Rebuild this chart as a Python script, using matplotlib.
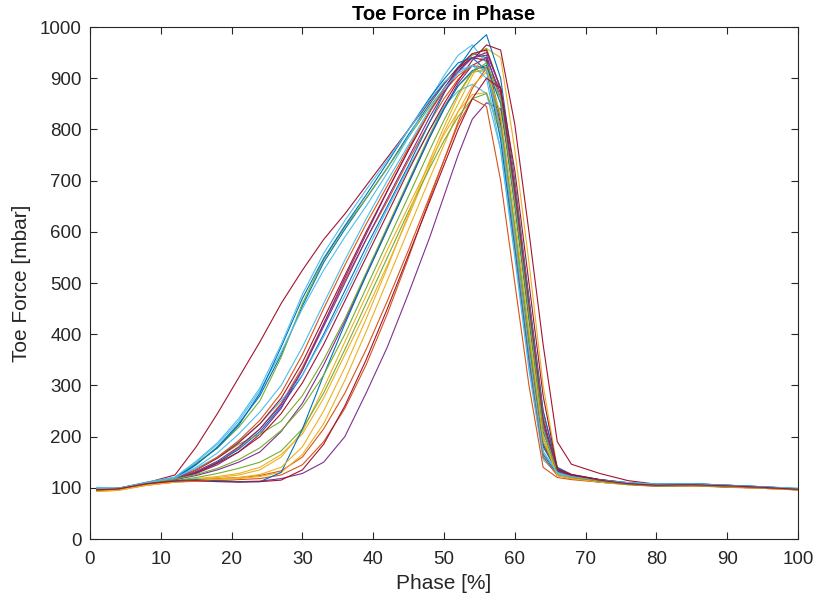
import matplotlib
matplotlib.use('Agg')
import matplotlib.pyplot as plt

# phase grid (%) shared by every trial
phase = [1, 4, 8, 12, 15, 18, 21, 24, 27, 30, 33, 36, 39, 42, 45, 48, 50, 52, 54,
         56, 58, 60, 62, 64, 66, 68, 72, 76, 80, 85, 90, 95, 100]

# toe force [mbar] per trial
trial_01 = [97, 99, 109, 118, 145, 180, 225, 280, 360, 455, 540, 605, 665, 725, 790, 850, 888, 922, 948, 940, 820, 600, 380, 180, 132, 124, 116, 110, 106, 107, 104, 101, 98]
trial_02 = [95, 97, 107, 115, 128, 148, 178, 215, 265, 335, 420, 505, 585, 660, 740, 815, 860, 898, 925, 920, 800, 580, 360, 170, 128, 120, 113, 108, 104, 105, 102, 100, 97]
trial_03 = [94, 96, 106, 113, 118, 122, 128, 140, 165, 205, 275, 360, 445, 535, 630, 730, 795, 850, 905, 958, 940, 760, 540, 300, 140, 126, 116, 109, 105, 106, 103, 100, 97]
trial_04 = [96, 97, 106, 112, 114, 113, 112, 113, 118, 128, 150, 200, 285, 375, 480, 590, 670, 750, 820, 852, 840, 680, 470, 250, 138, 124, 114, 108, 104, 105, 103, 100, 96]
trial_05 = [98, 99, 110, 120, 148, 178, 218, 270, 355, 460, 545, 610, 665, 725, 785, 845, 880, 915, 945, 958, 880, 680, 450, 230, 135, 124, 115, 108, 105, 106, 103, 101, 97]
trial_06 = [100, 98, 110, 120, 150, 185, 230, 290, 365, 450, 525, 590, 650, 715, 785, 860, 905, 945, 965, 930, 780, 560, 340, 160, 128, 121, 114, 108, 106, 107, 104, 101, 98]
trial_07 = [97, 99, 110, 125, 180, 245, 315, 385, 460, 525, 585, 635, 690, 745, 800, 855, 890, 920, 940, 935, 810, 600, 380, 185, 132, 124, 115, 109, 105, 106, 103, 100, 97]
trial_08 = [96, 98, 108, 116, 130, 150, 175, 210, 258, 320, 400, 485, 570, 650, 730, 815, 870, 920, 960, 985, 900, 700, 470, 250, 140, 126, 116, 110, 107, 108, 105, 102, 98]
trial_09 = [95, 97, 106, 112, 116, 118, 120, 124, 133, 160, 215, 285, 370, 465, 565, 670, 740, 810, 860, 845, 700, 500, 300, 140, 120, 116, 111, 107, 104, 104, 102, 99, 96]
trial_10 = [93, 96, 106, 113, 117, 120, 125, 135, 160, 210, 295, 385, 475, 565, 650, 735, 790, 835, 868, 872, 790, 600, 400, 200, 128, 121, 113, 108, 104, 105, 102, 100, 97]
trial_11 = [97, 98, 108, 116, 128, 145, 170, 205, 255, 330, 420, 510, 595, 680, 760, 835, 880, 915, 940, 945, 860, 660, 430, 220, 135, 124, 114, 107, 104, 105, 103, 100, 97]
trial_12 = [98, 99, 110, 118, 135, 158, 185, 205, 230, 280, 350, 430, 520, 610, 700, 790, 845, 885, 912, 915, 820, 610, 390, 190, 130, 122, 114, 108, 105, 106, 103, 101, 98]
trial_13 = [101, 99, 111, 119, 138, 160, 190, 225, 270, 320, 395, 475, 560, 645, 725, 800, 845, 875, 888, 870, 760, 560, 350, 170, 130, 122, 114, 109, 106, 107, 104, 101, 98]
trial_14 = [96, 98, 109, 117, 130, 148, 170, 200, 245, 305, 380, 465, 550, 635, 720, 800, 850, 895, 935, 965, 955, 810, 600, 380, 190, 146, 128, 114, 107, 106, 103, 100, 97]
trial_15 = [99, 97, 109, 119, 146, 178, 222, 285, 375, 470, 548, 612, 672, 735, 800, 862, 898, 930, 940, 915, 780, 570, 350, 165, 128, 121, 114, 109, 107, 108, 105, 102, 98]
trial_16 = [94, 96, 105, 111, 113, 114, 116, 118, 125, 145, 190, 255, 340, 440, 550, 665, 740, 815, 880, 920, 880, 690, 460, 240, 125, 118, 111, 106, 103, 104, 101, 99, 96]
trial_17 = [93, 95, 105, 112, 114, 116, 118, 122, 130, 165, 225, 310, 405, 505, 605, 705, 770, 835, 885, 912, 860, 670, 450, 230, 128, 121, 113, 108, 104, 104, 102, 99, 96]
trial_18 = [97, 99, 109, 116, 124, 135, 150, 170, 210, 265, 340, 425, 515, 605, 695, 785, 840, 890, 925, 940, 870, 670, 450, 230, 133, 123, 113, 107, 103, 104, 102, 100, 97]
trial_19 = [96, 98, 108, 114, 120, 128, 138, 150, 172, 215, 285, 370, 460, 550, 640, 725, 778, 825, 860, 870, 800, 610, 400, 200, 124, 119, 112, 107, 104, 105, 103, 100, 97]
trial_20 = [100, 99, 111, 121, 152, 188, 235, 295, 380, 478, 558, 622, 682, 740, 800, 858, 892, 915, 925, 900, 760, 550, 330, 155, 127, 121, 114, 110, 107, 108, 105, 102, 99]
trial_21 = [96, 98, 110, 118, 135, 158, 188, 225, 275, 345, 430, 515, 600, 680, 760, 835, 880, 920, 948, 955, 880, 680, 450, 230, 137, 126, 116, 109, 105, 106, 104, 101, 97]
trial_22 = [96, 98, 108, 114, 116, 114, 112, 112, 130, 215, 320, 420, 515, 605, 695, 785, 840, 885, 915, 925, 850, 650, 430, 210, 132, 122, 114, 109, 106, 108, 105, 102, 98]
trial_23 = [95, 97, 107, 117, 135, 160, 192, 232, 285, 360, 450, 535, 615, 690, 765, 835, 875, 905, 925, 915, 800, 580, 360, 160, 124, 118, 112, 107, 104, 105, 102, 100, 97]
trial_24 = [93, 95, 105, 111, 114, 117, 120, 126, 140, 180, 250, 335, 430, 530, 635, 740, 805, 865, 912, 918, 830, 630, 410, 200, 124, 118, 111, 106, 103, 104, 102, 99, 96]
trial_25 = [97, 99, 109, 117, 132, 152, 180, 215, 262, 330, 415, 500, 585, 665, 745, 825, 872, 912, 940, 950, 880, 680, 450, 230, 134, 123, 113, 107, 104, 105, 103, 100, 97]
trial_26 = [98, 99, 110, 117, 126, 138, 155, 178, 212, 258, 320, 400, 490, 580, 670, 760, 818, 870, 912, 930, 860, 660, 440, 215, 130, 121, 113, 107, 104, 105, 103, 101, 97]
trial_27 = [100, 99, 110, 119, 140, 168, 205, 248, 300, 375, 460, 545, 625, 700, 770, 840, 880, 910, 925, 915, 800, 590, 370, 170, 129, 122, 115, 110, 107, 108, 105, 102, 99]
trial_28 = [96, 98, 108, 113, 114, 112, 111, 112, 115, 135, 185, 260, 350, 450, 555, 660, 730, 800, 860, 900, 880, 720, 500, 280, 136, 125, 115, 108, 105, 106, 104, 101, 97]

trials = [trial_01, trial_02, trial_03, trial_04, trial_05, trial_06, trial_07,
          trial_08, trial_09, trial_10, trial_11, trial_12, trial_13, trial_14,
          trial_15, trial_16, trial_17, trial_18, trial_19, trial_20, trial_21,
          trial_22, trial_23, trial_24, trial_25, trial_26, trial_27, trial_28]

# MATLAB default line colour order
colors = ['#0072BD', '#D95319', '#EDB120', '#7E2F8E', '#77AC30', '#4DBEEE', '#A2142F']

plt.rcParams['font.family'] = ['Liberation Sans', 'DejaVu Sans']
fig = plt.figure(figsize=(8.2, 6.04), dpi=100)
# axes box: x 90..798 px, y 27..539 px
ax = fig.add_axes([90 / 820, (604 - 539) / 604, 708 / 820, 512 / 604])

for i, t in enumerate(trials):
    ax.plot(phase, t, color=colors[i % len(colors)], linewidth=0.8)

ax.set_xlim(0, 100)
ax.set_ylim(0, 1000)
ax.set_xticks(range(0, 101, 10))
ax.set_yticks(range(0, 1001, 100))

gray = '#262626'
for s in ax.spines.values():
    s.set_color(gray)
    s.set_linewidth(0.8)
ax.tick_params(direction='in', length=5, width=0.8, color=gray, labelcolor=gray,
               labelsize=13.5, top=True, right=True)
ax.tick_params(axis='x', pad=9)
ax.tick_params(axis='y', pad=6)
ax.set_xlabel('Phase [%]', fontsize=15, color=gray, labelpad=4)
ax.set_ylabel('Toe Force [mbar]', fontsize=15, color=gray, labelpad=6)
ax.set_title('Toe Force in Phase', fontsize=14.5, fontweight='bold', color='black', pad=5)

fig.savefig('out.png', dpi=100)
